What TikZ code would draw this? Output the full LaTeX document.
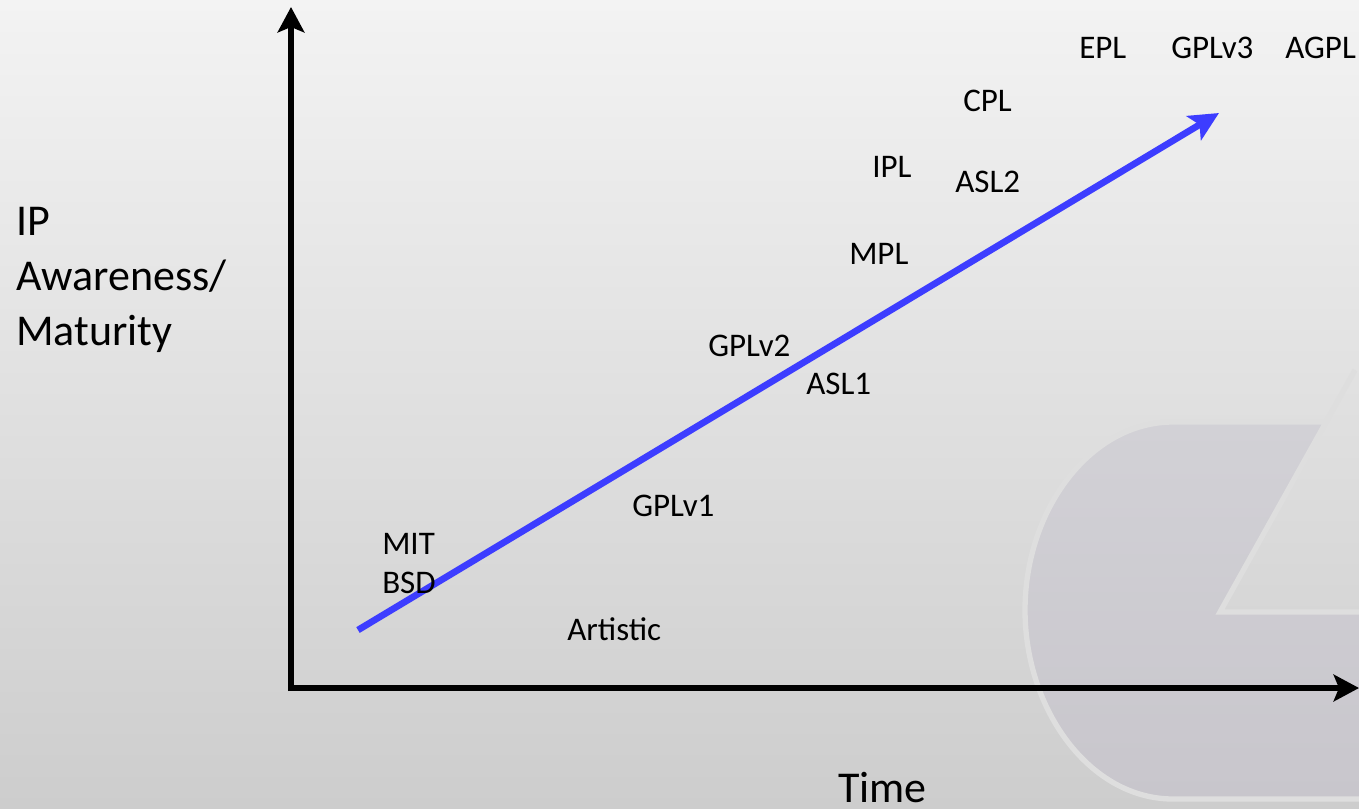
\documentclass[tikz,border=0pt]{standalone}
\usepackage{fontspec}
\setmainfont{Carlito}
\usetikzlibrary{arrows.meta}
\definecolor{bgtop}{HTML}{F3F3F3}
\definecolor{bgbot}{HTML}{CDCDCD}
\definecolor{logotop}{HTML}{D2D1D6}
\definecolor{logobot}{HTML}{C8C6CC}
\definecolor{logoedge}{HTML}{DEDEDE}
\definecolor{trend}{HTML}{3D3DFF}
\tikzset{
  axis/.style={line width=4.6pt, -{Stealth[length=19pt,width=20pt,inset=4pt]}},
  trendline/.style={line width=5pt, trend, -{Stealth[length=22pt,width=21pt,inset=5pt]}},
  lic/.style={anchor=base west, inner sep=0pt, font=\fontsize{24.75}{30}\selectfont},
  axlabel/.style={anchor=base west, inner sep=0pt, font=\fontsize{33}{40}\selectfont},
}
\begin{document}
\begin{tikzpicture}[x=0.75pt,y=-0.75pt]
\useasboundingbox (0,0) rectangle (1359,808);
\shade[top color=bgtop, bottom color=bgbot] (0,0) rectangle (1359,808);
% faint logo
\shade[top color=logotop, bottom color=logobot, draw=logoedge, line width=4pt]
  (1326,422) -- (1173,422)
  .. controls (1090,422) and (1025,510) .. (1025,610)
  .. controls (1025,710) and (1090,799) .. (1173,799)
  -- (1365,799) -- (1365,612) -- (1220,612) -- cycle;
\draw[logoedge, line width=4pt] (1326,422) -- (1355,370);
% axes
\coordinate (origin) at (291,691);
\coordinate (ytip) at (291,7);
\coordinate (xorig) at (288,688);
\coordinate (xtip) at (1359,688);
\draw[axis] (origin) -- (ytip);
\draw[axis] (xorig) -- (xtip);
% trend
\coordinate (tstart) at (358,630);
\coordinate (tend) at (1219,113);
\draw[trendline] (tstart) -- (tend);
% labels
\node[axlabel] (ip) at (16,235) {IP};
\node[axlabel] (aw) at (16,290) {Awareness/};
\node[axlabel] (mat) at (16,345) {Maturity};
\node[axlabel] (time) at (838,802) {Time};
\node[lic] (epl) at (1079,58) {EPL};
\node[lic] (gpl3) at (1171,58) {GPLv3};
\node[lic] (agpl) at (1285,58) {AGPL};
\node[lic] (cpl) at (963,111) {CPL};
\node[lic] (ipl) at (872,177) {IPL};
\node[lic] (asl2) at (955,192) {ASL2};
\node[lic] (mpl) at (849,264) {MPL};
\node[lic] (gpl2) at (708,356) {GPLv2};
\node[lic] (asl1) at (806,394) {ASL1};
\node[lic] (gpl1) at (632,516) {GPLv1};
\node[lic] (mit) at (382,554) {MIT};
\node[lic] (bsd) at (382,593) {BSD};
\node[lic] (art) at (567,640) {Artistic};
\end{tikzpicture}
\end{document}
